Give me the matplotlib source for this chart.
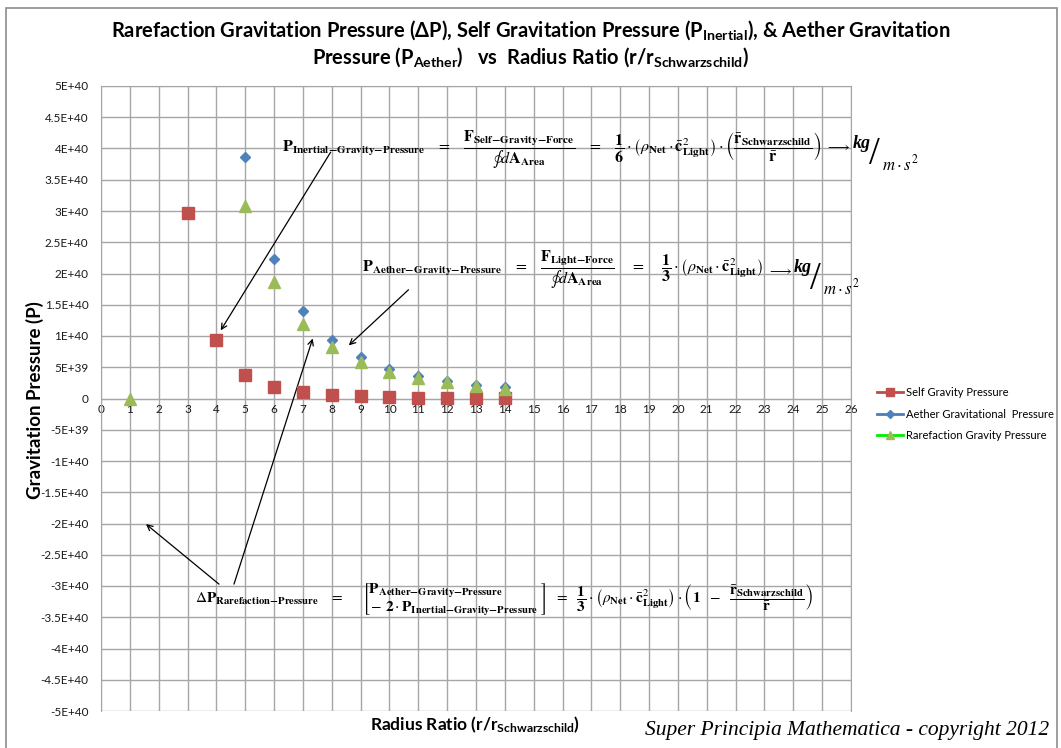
import matplotlib
matplotlib.use("Agg")
import matplotlib.pyplot as plt
from matplotlib.lines import Line2D
from matplotlib.patches import Rectangle

plt.rcParams['font.family'] = ['Lato', 'DejaVu Sans']
plt.rcParams['mathtext.fontset'] = 'custom'
plt.rcParams['mathtext.rm'] = 'Lato'
plt.rcParams['mathtext.bf'] = 'Lato:bold'
plt.rcParams['mathtext.it'] = 'Lato:italic'

# data (radius ratio r/r_s vs pressure)
x_self = [3, 4, 5, 6, 7, 8, 9, 10, 11, 12, 13, 14]
p_self = [2.97e40, 9.3e39, 3.8e39, 1.8e39, 1.0e39, 6.0e38, 3.7e38, 2.4e38,
          1.6e38, 1.2e38, 8.0e37, 6.0e37]
x_aether = [5, 6, 7, 8, 9, 10, 11, 12, 13, 14]
p_aether = [3.86e40, 2.23e40, 1.40e40, 9.4e39, 6.6e39, 4.8e39, 3.6e39,
            2.8e39, 2.2e39, 1.8e39]
x_raref = [1, 5, 6, 7, 8, 9, 10, 11, 12, 13, 14]
p_raref = [0.0, 3.08e40, 1.86e40, 1.20e40, 8.2e39, 5.9e39, 4.3e39, 3.3e39,
           2.6e39, 2.0e39, 1.6e39]

y_ticks = [5e40, 4.5e40, 4e40, 3.5e40, 3e40, 2.5e40, 2e40, 1.5e40, 1e40, 5e39, 0,
           -5e39, -1e40, -1.5e40, -2e40, -2.5e40, -3e40, -3.5e40, -4e40, -4.5e40, -5e40]
y_labels = ["5E+40", "4.5E+40", "4E+40", "3.5E+40", "3E+40", "2.5E+40", "2E+40",
            "1.5E+40", "1E+40", "5E+39", "0", "-5E+39", "-1E+40", "-1.5E+40",
            "-2E+40", "-2.5E+40", "-3E+40", "-3.5E+40", "-4E+40", "-4.5E+40", "-5E+40"]

red = "#C0504D"
blue = "#4F81BD"
green = "#9BBB59"
grid_c = "#A6A6A6"

fig = plt.figure(figsize=(10.61, 7.48), dpi=100)
ax = fig.add_axes([101/1061, 37/748, 750/1061, 625/748])

ax.plot(x_self, p_self, ls="none", marker="s", ms=8, color=red, zorder=4)
ax.plot(x_aether, p_aether, ls="none", marker="D", ms=5.5, color=blue, zorder=4)
ax.plot(x_raref, p_raref, ls="none", marker="^", ms=8.5, color=green, zorder=5)

ax.set_xlim(0, 26)
ax.set_ylim(-5e40, 5e40)
ax.set_xticks(range(0, 27))
ax.set_yticks(y_ticks)
ax.set_yticklabels(y_labels)
ax.tick_params(axis="both", length=0, labelsize=8.5, colors="#1a1a1a")
ax.tick_params(axis="y", pad=9)
ax.tick_params(axis="x", pad=4)
ax.grid(True, color=grid_c, lw=1.0)
ax.set_axisbelow(True)
for s in ["top", "right", "left"]:
    ax.spines[s].set_color(grid_c)
ax.spines["bottom"].set_position(("data", 0))
ax.spines["bottom"].set_color(grid_c)

# arrows from the formulas to the points
arr = dict(arrowstyle="->", color="black", lw=0.9, shrinkA=0, shrinkB=0)
ax.annotate("", xy=(4.15, 1.09e40), xytext=(7.96, 3.94e40), arrowprops=arr)
ax.annotate("", xy=(8.59, 0.85e40), xytext=(10.66, 1.74e40), arrowprops=arr)
ax.annotate("", xy=(7.34, 0.96e40), xytext=(4.61, -2.97e40), arrowprops=arr)
ax.annotate("", xy=(1.56, -2.01e40), xytext=(4.09, -2.97e40), arrowprops=arr)

f1 = (r"$\mathbf{P}_{\mathbf{Inertial{-}Gravity{-}Pressure}}\ \ \ =\ \ \ "
      r"\dfrac{\mathbf{F}_{\mathbf{Self{-}Gravity{-}Force}}}{\oint d\mathbf{A}_{\mathbf{Area}}}\ \ \ =\ \ \ "
      r"\dfrac{\mathbf{1}}{\mathbf{6}}\cdot\left(\rho_{\mathbf{Net}}\cdot\bar{\mathbf{c}}^{2}_{\mathbf{Light}}\right)"
      r"\cdot\left(\dfrac{\bar{\mathbf{r}}_{\mathbf{Schwarzschild}}}{\bar{\mathbf{r}}}\right)$")
f2 = (r"$\mathbf{P}_{\mathbf{Aether{-}Gravity{-}Pressure}}\ \ \ =\ \ \ "
      r"\dfrac{\mathbf{F}_{\mathbf{Light{-}Force}}}{\oint d\mathbf{A}_{\mathbf{Area}}}\ \ \ \ =\ \ \ \ "
      r"\dfrac{\mathbf{1}}{\mathbf{3}}\cdot\left(\rho_{\mathbf{Net}}\cdot\bar{\mathbf{c}}^{2}_{\mathbf{Light}}\right)$")
f3 = (r"$\Delta\mathbf{P}_{\mathbf{Rarefaction{-}Pressure}}\ \ \ =\ \ \ \ \ "
      r"\genfrac{[}{]}{0}{0}{\mathbf{P}_{\mathbf{Aether{-}Gravity{-}Pressure}}\ \ \ \ \ \ \ \ \ \ }"
      r"{-\ \mathbf{2}\cdot\mathbf{P}_{\mathbf{Inertial{-}Gravity{-}Pressure}}}\ \ =\ \ "
      r"\dfrac{\mathbf{1}}{\mathbf{3}}\cdot\left(\rho_{\mathbf{Net}}\cdot\bar{\mathbf{c}}^{2}_{\mathbf{Light}}\right)"
      r"\cdot\left(\mathbf{1}\ \ -\ \ \dfrac{\bar{\mathbf{r}}_{\mathbf{Schwarzschild}}}{\bar{\mathbf{r}}}\right)$")
fig.text(282/1061, 1 - 150/748, f1, math_fontfamily="stix", fontsize=11.5, va="center")
fig.text(362/1061, 1 - 270/748, f2, math_fontfamily="stix", fontsize=11.5, va="center")
fig.text(195/1061, 1 - 600/748, f3, math_fontfamily="stix", fontsize=11, va="center")

# arrow to kg / (m s^2) units drawn as a slanted fraction
for ax_px, ux, uy in [(825, 853, 144), (767, 794, 268)]:
    fig.text(ax_px/1061, 1 - (uy + 3)/748, r"$\longrightarrow$", math_fontfamily="stix",
             fontsize=10, va="center")
    fig.text(ux/1061, 1 - uy/748, "kg", family="Liberation Serif", style="italic",
             fontweight="bold", fontsize=13, va="center")
    fig.text((ux + 16)/1061, 1 - (uy + 11)/748, "/", family="Liberation Serif",
             fontsize=28, va="center")
    fig.text((ux + 29)/1061, 1 - (uy + 19)/748, r"$m\cdot s^{2}$",
             math_fontfamily="stix", fontsize=12, va="center")

title = ("Rarefaction Gravitation Pressure (ΔP), Self Gravitation Pressure (P$_{\\mathbf{Inertial}}$), "
         "& Aether Gravitation\nPressure (P$_{\\mathbf{Aether}}$)   vs  Radius Ratio (r/r$_{\\mathbf{Schwarzschild}}$)")
fig.text(531/1061, 1 - 44/748, title, ha="center", va="center", fontsize=14.5,
         fontweight="bold", math_fontfamily="custom", linespacing=1.2)
fig.text(35/1061, 1 - 400/748, "Gravitation Pressure (P)", rotation=90, ha="center",
         va="center", fontsize=13.5, fontweight="bold")
fig.text(475/1061, 1 - 725/748, "Radius Ratio (r/r$_{\\mathbf{Schwarzschild}}$)", ha="center",
         va="center", fontsize=12.5, fontweight="bold", math_fontfamily="custom")
fig.text(645/1061, 1 - 730/748, "Super Principia Mathematica - copyright 2012",
         family="Liberation Serif", style="italic", fontsize=15.5, va="center")

handles = [
    Line2D([], [], color="#BE4B48", lw=2, marker="s", ms=6, mfc=red, mec=red),
    Line2D([], [], color="#4A7EBB", lw=2, marker="D", ms=4, mfc=blue, mec=blue),
    Line2D([], [], color="#00EE00", lw=2, marker="^", ms=6, mfc=green, mec=green),
]
fig.legend(handles, ["Self Gravity Pressure", "Aether Gravitational  Pressure",
                     "Rarefaction Gravity Pressure"],
           loc="upper left", bbox_to_anchor=(867/1061, 1 - 377/748), frameon=False,
           fontsize=8, handlelength=2.3, handletextpad=0.3, labelspacing=0.95)

fig.patches.append(Rectangle((6/1061, -0.02), 1051/1061, 740/748 + 0.02,
                             transform=fig.transFigure, fill=False, ec="#8C8C8C", lw=1.2))

fig.savefig("out.png", dpi=100, facecolor="white")
